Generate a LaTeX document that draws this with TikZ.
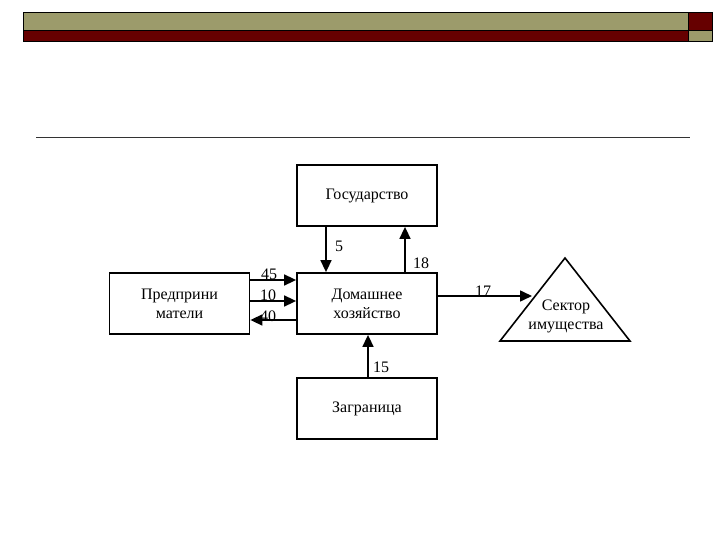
\documentclass[tikz,border=0pt]{standalone}
\usepackage{fontspec}
\setmainfont{Liberation Serif}
\usetikzlibrary{arrows.meta}
\definecolor{olivebar}{HTML}{9C9B6B}
\definecolor{redbar}{HTML}{660000}
\tikzset{
  box/.style={draw=black, line width=1.8pt, minimum width=140pt, minimum height=61pt, inner sep=0pt, align=center, font=\fontsize{16}{19}\selectfont},
  flow/.style={draw=black, line width=1.6pt, -{Triangle[length=12pt,width=11pt]}},
  num/.style={font=\fontsize{16}{19}\selectfont, inner sep=0pt},
}
\begin{document}
\begin{tikzpicture}[x=1pt,y=-1pt]
\useasboundingbox (0,0) rectangle (720,540);
% header
\fill[olivebar] (23,12) rectangle (688,30);
\fill[redbar] (23,30) rectangle (688,41);
\fill[redbar] (688,12) rectangle (712,30);
\fill[olivebar] (688,30) rectangle (712,41);
\draw[black, line width=0.6pt] (23,12) rectangle (688,41);
\draw[black, line width=0.6pt] (688,12) rectangle (712,41);
\draw[black, line width=0.4pt] (23,30) -- (712,30);
% rule
\draw[black!80, line width=0.7pt] (36,137) -- (690,137);
% boxes
\node[box] (gos) at (367,195.5) {Государство};
\node[box] (pred) at (179.5,303.5) {Предприни\\матели};
\node[box] (hh) at (367,303.5) {Домашнее\\хозяйство};
\node[box] (zag) at (367,408.5) {Заграница};
\coordinate (tA) at (565,258);
\coordinate (tB) at (500,341);
\coordinate (tC) at (630,341);
\draw[black, line width=1.6pt, line join=miter] (tA) -- (tB) -- (tC) -- cycle;
\node[num, align=center] (sek) at (566,316) {Сектор\\имущества};
\coordinate (t17) at (532,296);
% flows
\draw[flow] (gos.south -| 326,0) -- (hh.north -| 326,0);
\draw[flow] (hh.north -| 405,0) -- (gos.south -| 405,0);
\draw[flow] (pred.east |- 0,280) -- (hh.west |- 0,280);
\draw[flow] (pred.east |- 0,301) -- (hh.west |- 0,301);
\draw[flow] (hh.west |- 0,320) -- (pred.east |- 0,320);
\draw[flow] (hh.east |- 0,296) -- (t17);
\draw[flow] (zag.north -| 368,0) -- (hh.south -| 368,0);
% labels
\node[num] (l5) at (339,246) {5};
\node[num] (l18) at (421,263) {18};
\node[num] (l45) at (269,274) {45};
\node[num] (l10) at (268,295) {10};
\node[num] (l40) at (268,316) {40};
\node[num] (l17) at (483,291) {17};
\node[num] (l15) at (381,367) {15};
\end{tikzpicture}
\end{document}
